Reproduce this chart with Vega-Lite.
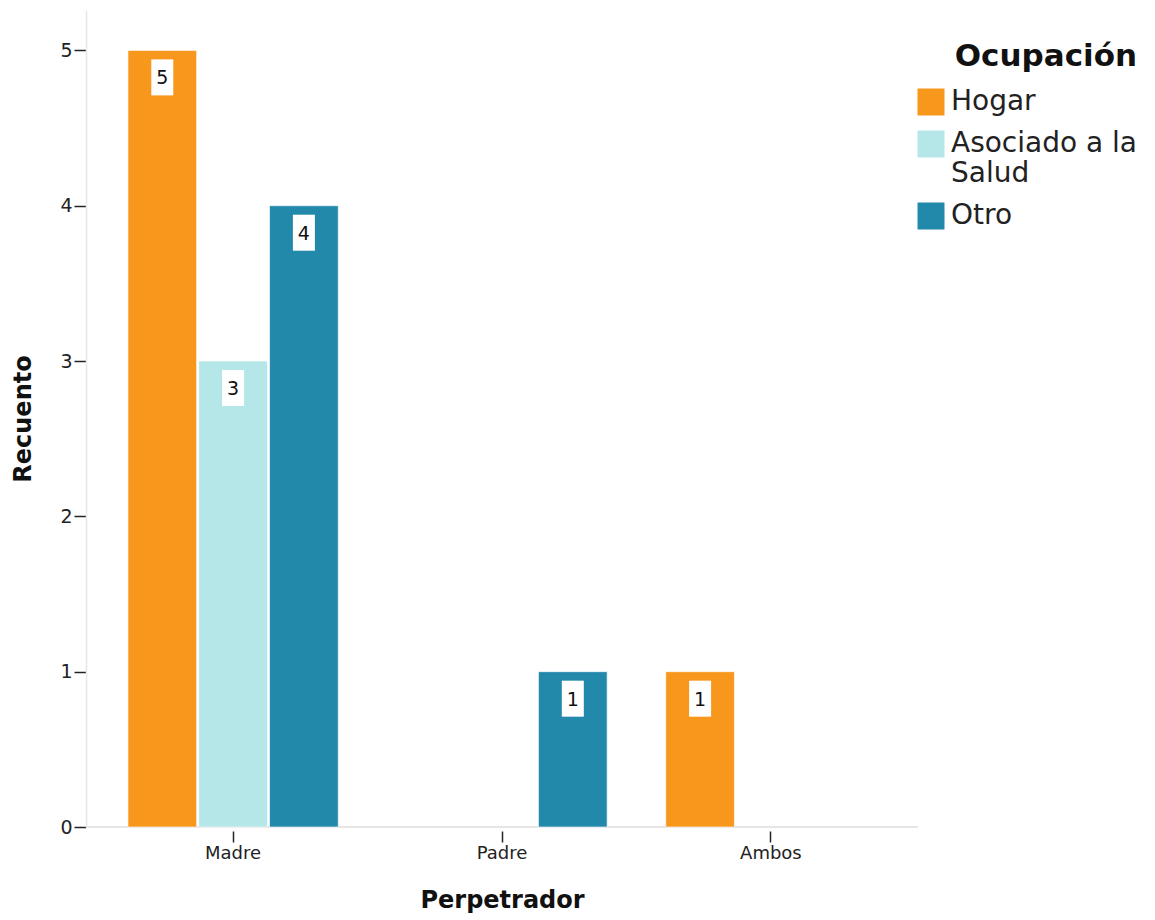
{
  "$schema": "https://vega.github.io/schema/vega-lite/v6.json",
  "autosize": "none",
  "width": 832,
  "height": 817,
  "padding": {"left": 86, "top": 10, "right": 237, "bottom": 93},
  "background": "white",
  "config": {
    "view": {"stroke": null},
    "font": "DejaVu Sans"
  },
  "data": {
    "values": [
      {"Perpetrador": "Madre", "Ocupacion": "Hogar", "Recuento": 5},
      {"Perpetrador": "Madre", "Ocupacion": "Asociado a la Salud", "Recuento": 3},
      {"Perpetrador": "Madre", "Ocupacion": "Otro", "Recuento": 4},
      {"Perpetrador": "Padre", "Ocupacion": "Otro", "Recuento": 1},
      {"Perpetrador": "Ambos", "Ocupacion": "Hogar", "Recuento": 1}
    ]
  },
  "layer": [
    {
      "mark": {"type": "rule", "color": "#e6e6e6", "strokeWidth": 1.5},
      "encoding": {"y": {"datum": 0, "type": "quantitative"}}
    },
    {
      "mark": {"type": "bar", "stroke": "#ffffff", "strokeWidth": 1, "strokeOpacity": 0.6},
      "encoding": {
        "x": {
          "field": "Perpetrador", "type": "nominal",
          "sort": ["Madre", "Padre", "Ambos"],
          "scale": {"domain": ["Madre", "Padre", "Ambos"], "paddingInner": 0.218, "paddingOuter": 0.156},
          "axis": {
            "title": "Perpetrador", "labelAngle": 0, "domain": false, "offset": 4,
            "tickSize": 11, "tickColor": "#222222", "tickWidth": 1.5,
            "labelFontSize": 18, "labelColor": "#222222", "labelPadding": 2,
            "titleFontSize": 24, "titleFontWeight": "bold", "titleColor": "#111111", "titlePadding": 26
          }
        },
        "xOffset": {
          "field": "Ocupacion", "type": "nominal",
          "scale": {"domain": ["Hogar", "Asociado a la Salud", "Otro"], "paddingInner": 0.03, "paddingOuter": 0}
        },
        "y": {
          "field": "Recuento", "type": "quantitative",
          "scale": {"domain": [0, 5.26], "nice": false},
          "axis": {
            "title": "Recuento", "values": [0, 1, 2, 3, 4, 5], "format": "d", "grid": false,
            "domainColor": "#e6e6e6", "domainWidth": 1.5,
            "tickSize": 12, "tickColor": "#222222", "tickWidth": 1.5,
            "labelFontSize": 19, "labelColor": "#222222", "labelPadding": 2,
            "titleFontSize": 24, "titleFontWeight": "bold", "titleColor": "#111111", "titlePadding": 24
          }
        },
        "color": {
          "field": "Ocupacion", "type": "nominal",
          "scale": {"domain": ["Hogar", "Asociado a la Salud", "Otro"], "range": ["#F7981D", "#B5E6E8", "#2389AB"]},
          "legend": {
            "title": "Ocupación", "orient": "none", "legendX": 831, "legendY": 32,
            "titleFontSize": 31, "titleFontWeight": "bold", "titleColor": "#111111", "titleAnchor": "end", "titlePadding": 15, "titleLimit": 400,
            "symbolType": "square", "symbolSize": 729, "symbolStrokeWidth": 0, "symbolOpacity": 1,
            "labelFontSize": 28, "labelColor": "#222222", "labelOffset": 6, "labelLimit": 400,
            "rowPadding": 14,
            "labelExpr": "datum.label == 'Asociado a la Salud' ? ['Asociado a la', 'Salud'] : datum.label"
          }
        }
      }
    },
    {
      "mark": {"type": "point", "shape": "M-0.611,-1H0.611V1H-0.611Z", "size": 1296, "filled": true, "color": "#ffffff", "opacity": 1, "strokeWidth": 0, "yOffset": 27},
      "encoding": {
        "x": {"field": "Perpetrador", "type": "nominal", "sort": ["Madre", "Padre", "Ambos"]},
        "xOffset": {"field": "Ocupacion", "type": "nominal"},
        "y": {"field": "Recuento", "type": "quantitative"}
      }
    },
    {
      "mark": {"type": "text", "fontSize": 19, "color": "#111111", "baseline": "middle", "yOffset": 28},
      "encoding": {
        "x": {"field": "Perpetrador", "type": "nominal", "sort": ["Madre", "Padre", "Ambos"]},
        "xOffset": {"field": "Ocupacion", "type": "nominal"},
        "y": {"field": "Recuento", "type": "quantitative"},
        "text": {"field": "Recuento", "type": "quantitative"}
      }
    }
  ]
}
